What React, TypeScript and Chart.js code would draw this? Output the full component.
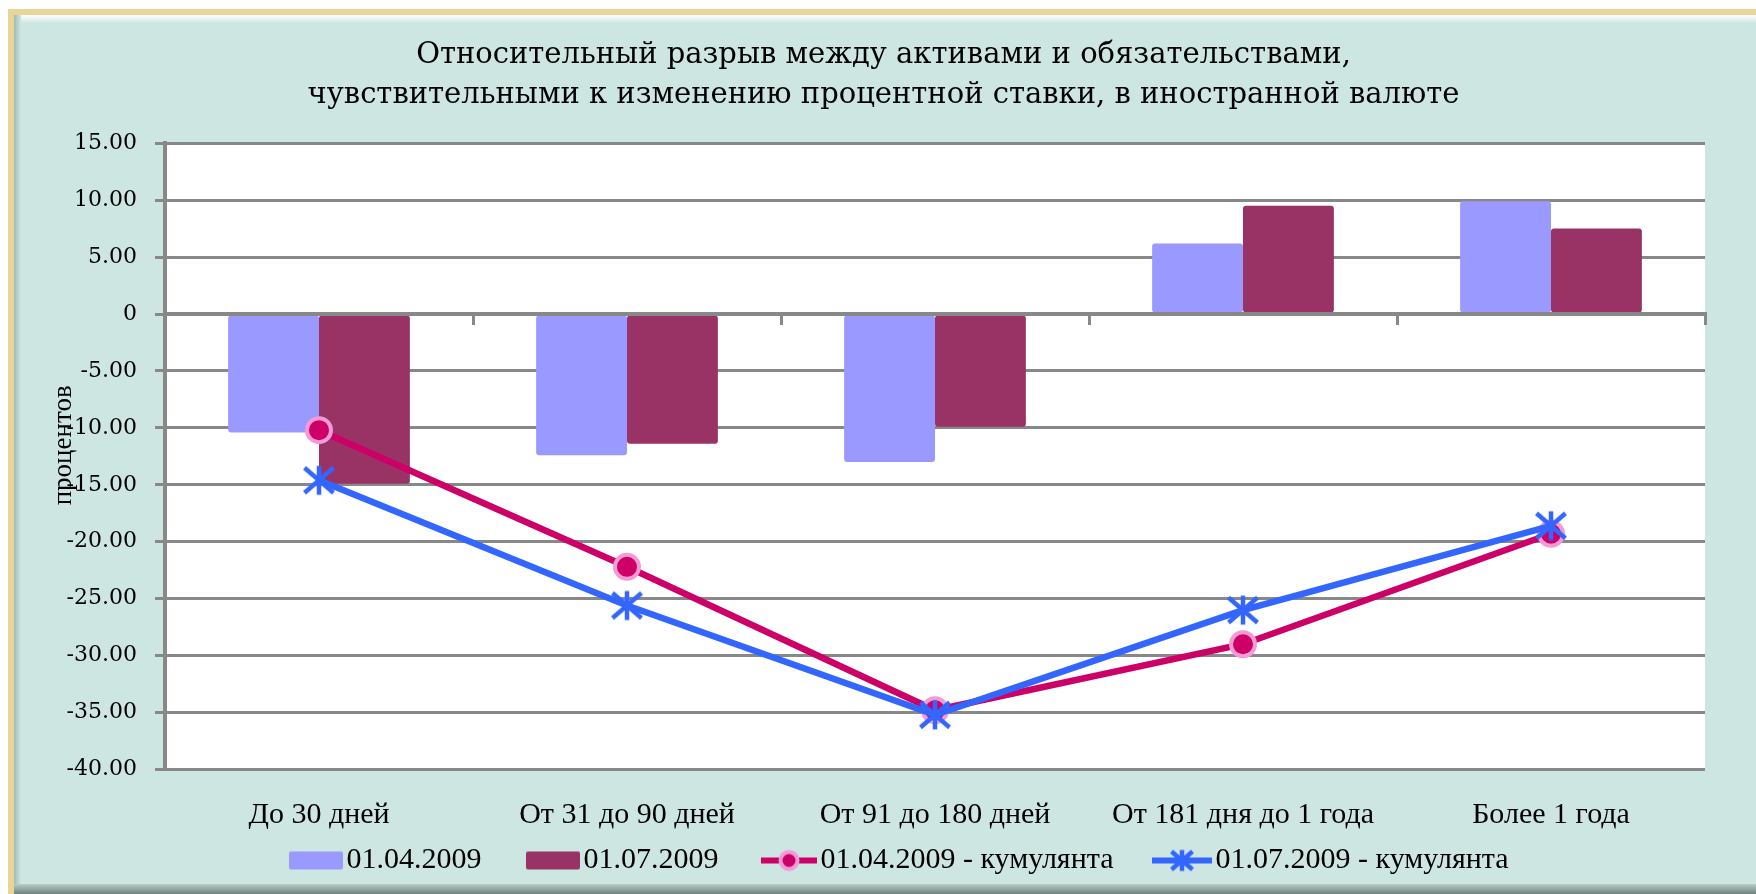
import React, { useEffect, useRef } from 'react';
import { Chart, registerables } from 'chart.js';

Chart.register(...registerables);

// ---- data ----
const categories = ['До 30 дней', 'От 31 до 90 дней', 'От 91 до 180 дней', 'От 181 дня до 1 года', 'Более 1 года'];
const gapApr = [-10.4, -12.4, -13.0, 6.2, 9.9];
const gapJul = [-14.9, -11.4, -9.9, 9.5, 7.5];
const cumApr = [-10.2, -22.2, -34.8, -29.0, -19.3];
const cumJul = [-14.6, -25.6, -35.2, -26.0, -18.6];
const seriesNames = ['01.04.2009', '01.07.2009', '01.04.2009 - кумулянта', '01.07.2009 - кумулянта'];
const titleLines = [
  'Относительный разрыв между активами и обязательствами,',
  'чувствительными к изменению процентной ставки, в иностранной валюте',
];
const yAxisTitle = 'процентов';
const yMin = -40;
const yMax = 15;
const yStep = 5;

// ---- styles ----
const PURPLE = '#9999FF';
const MAROON = '#993366';
const PINK_LINE = '#CC0066';
const PINK_BORDER = '#F49AD6';
const BLUE = '#3366FF';
const GRID = '#888888';

const LEGEND_PW = 73; // pointStyleWidth
const LEGEND_IW = 100; // legend image width
const LEGEND_IH = 28;
const LEGEND_VIS_RIGHT = 98; // right edge of visible glyph inside the legend image

function makeCanvas(w: number, h: number, draw: (ctx: CanvasRenderingContext2D) => void) {
  const c = document.createElement('canvas');
  c.width = w;
  c.height = h;
  const ctx = c.getContext('2d') as CanvasRenderingContext2D;
  draw(ctx);
  return c;
}

function drawStar(ctx: CanvasRenderingContext2D, cx: number, cy: number, r: number, lw: number) {
  ctx.strokeStyle = BLUE;
  ctx.lineWidth = lw;
  ctx.lineCap = 'butt';
  ctx.beginPath();
  ctx.moveTo(cx, cy - r);
  ctx.lineTo(cx, cy + r);
  ctx.moveTo(cx - r, cy - r * 0.86);
  ctx.lineTo(cx + r, cy + r * 0.86);
  ctx.moveTo(cx + r, cy - r * 0.86);
  ctx.lineTo(cx - r, cy + r * 0.86);
  ctx.stroke();
}

function roundRect(ctx: CanvasRenderingContext2D, x: number, y: number, w: number, h: number, r: number) {
  ctx.beginPath();
  ctx.moveTo(x + r, y);
  ctx.lineTo(x + w - r, y);
  ctx.quadraticCurveTo(x + w, y, x + w, y + r);
  ctx.lineTo(x + w, y + h - r);
  ctx.quadraticCurveTo(x + w, y + h, x + w - r, y + h);
  ctx.lineTo(x + r, y + h);
  ctx.quadraticCurveTo(x, y + h, x, y + h - r);
  ctx.lineTo(x, y + r);
  ctx.quadraticCurveTo(x, y, x + r, y);
  ctx.closePath();
}

export default function App() {
  const ref = useRef<HTMLCanvasElement | null>(null);

  useEffect(() => {
    const canvas = ref.current;
    if (!canvas) return;

    const starPoint = makeCanvas(34, 34, (ctx) => drawStar(ctx, 17, 17, 14.5, 4.5));

    const cy = LEGEND_IH / 2;
    const legendBar = (color: string) =>
      makeCanvas(LEGEND_IW, LEGEND_IH, (ctx) => {
        ctx.fillStyle = color;
        roundRect(ctx, LEGEND_VIS_RIGHT - 54, cy - 9, 54, 18, 2);
        ctx.fill();
      });
    const legendPink = makeCanvas(LEGEND_IW, LEGEND_IH, (ctx) => {
      const l = LEGEND_VIS_RIGHT - 56;
      ctx.strokeStyle = PINK_LINE;
      ctx.lineWidth = 6;
      ctx.beginPath();
      ctx.moveTo(l, cy);
      ctx.lineTo(LEGEND_VIS_RIGHT, cy);
      ctx.stroke();
      ctx.beginPath();
      ctx.arc(l + 28, cy, 8.5, 0, Math.PI * 2);
      ctx.fillStyle = PINK_LINE;
      ctx.fill();
      ctx.lineWidth = 4;
      ctx.strokeStyle = PINK_BORDER;
      ctx.stroke();
    });
    const legendBlue = makeCanvas(LEGEND_IW, LEGEND_IH, (ctx) => {
      const l = LEGEND_VIS_RIGHT - 60;
      ctx.strokeStyle = BLUE;
      ctx.lineWidth = 6;
      ctx.beginPath();
      ctx.moveTo(l, cy);
      ctx.lineTo(LEGEND_VIS_RIGHT, cy);
      ctx.stroke();
      drawStar(ctx, l + 30, cy, 10.5, 4.5);
    });
    const legendImages = [legendBar(PURPLE), legendBar(MAROON), legendPink, legendBlue];

    const plotBg = {
      id: 'plotBg',
      beforeDraw(chart: any) {
        const { ctx, chartArea } = chart;
        ctx.save();
        ctx.fillStyle = '#FFFFFF';
        ctx.fillRect(chartArea.left, chartArea.top, chartArea.right - chartArea.left, chartArea.bottom - chartArea.top);
        ctx.restore();
      },
    };

    const yTitle = {
      id: 'yTitle',
      afterDraw(chart: any) {
        const { ctx, chartArea } = chart;
        ctx.save();
        ctx.translate(chartArea.left - 101, (chartArea.top + chartArea.bottom) / 2 - 11);
        ctx.rotate(-Math.PI / 2);
        ctx.font = '27px "Liberation Serif"';
        ctx.fillStyle = '#000';
        ctx.textAlign = 'center';
        ctx.textBaseline = 'middle';
        ctx.fillText(yAxisTitle, 0, 0);
        ctx.restore();
      },
    };

    const chart = new Chart(canvas, {
      type: 'bar',
      data: {
        labels: categories,
        datasets: [
          {
            type: 'line',
            label: seriesNames[3],
            data: cumJul,
            borderColor: BLUE,
            borderWidth: 6.5,
            tension: 0,
            pointStyle: starPoint as any,
            pointRadius: 15,
            order: 1,
          } as any,
          {
            type: 'line',
            label: seriesNames[2],
            data: cumApr,
            borderColor: PINK_LINE,
            borderWidth: 6.5,
            tension: 0,
            pointStyle: 'circle',
            pointRadius: 12,
            pointBorderWidth: 4,
            pointBackgroundColor: PINK_LINE,
            pointBorderColor: PINK_BORDER,
            order: 2,
          } as any,
          {
            type: 'bar',
            label: seriesNames[0],
            data: gapApr,
            backgroundColor: PURPLE,
            borderRadius: 3,
            borderSkipped: false,
            categoryPercentage: 0.59,
            barPercentage: 1,
            order: 3,
          } as any,
          {
            type: 'bar',
            label: seriesNames[1],
            data: gapJul,
            backgroundColor: MAROON,
            borderRadius: 3,
            borderSkipped: false,
            categoryPercentage: 0.59,
            barPercentage: 1,
            order: 4,
          } as any,
        ],
      },
      options: {
        animation: false,
        responsive: false,
        devicePixelRatio: 1,
        layout: { padding: { left: 62, right: 51, top: 10, bottom: 8.5 } },
        plugins: {
          tooltip: { enabled: false },
          title: {
            display: true,
            text: titleLines,
            color: '#000',
            font: { family: '"DejaVu Serif"', size: 29, weight: 'normal', lineHeight: 1.4 },
            padding: { top: 25, bottom: 27 },
          },
          legend: {
            display: true,
            position: 'bottom',
            labels: {
              usePointStyle: true,
              pointStyleWidth: LEGEND_PW,
              boxHeight: 26,
              padding: 14,
              color: '#000',
              font: { family: '"Liberation Serif"', size: 30 },
              generateLabels: () =>
                seriesNames.map((name, i) => ({
                  text: name,
                  pointStyle: legendImages[i] as any,
                  fillStyle: 'transparent',
                  strokeStyle: 'transparent',
                  lineWidth: 0,
                  hidden: false,
                  datasetIndex: [2, 3, 1, 0][i],
                  fontColor: '#000',
                })),
            },
          },
        },
        scales: {
          x: {
            type: 'category',
            position: 'bottom',
            offset: true,
            grid: { display: false },
            border: { display: false },
            ticks: {
              color: '#000',
              padding: 20,
              maxRotation: 0,
              autoSkip: false,
              font: { family: '"Liberation Serif"', size: 30 },
            },
            afterFit: (scale: any) => {
              scale.height = 62;
            },
          },
          x2: {
            type: 'category',
            labels: categories,
            position: { y: 0 },
            offset: true,
            ticks: { display: false },
            grid: {
              offset: true,
              drawOnChartArea: false,
              drawTicks: true,
              tickLength: 9,
              color: GRID,
              lineWidth: 3,
              z: 1,
            },
            border: { display: true, color: GRID, width: 4, z: 1 },
          } as any,
          y: {
            type: 'linear',
            min: yMin,
            max: yMax,
            ticks: {
              stepSize: yStep,
              color: '#000',
              padding: 18,
              font: { family: '"DejaVu Serif"', size: 22 },
              callback: (v: any) => (Number(v) === 0 ? '0' : Number(v).toFixed(2)),
            },
            grid: { color: GRID, lineWidth: 3, drawTicks: true, tickLength: 10 },
            border: { display: true, color: GRID, width: 4 },
            afterFit: (scale: any) => {
              scale.width = 103;
            },
          },
        },
      },
      plugins: [plotBg, yTitle],
    });

    return () => chart.destroy();
  }, []);

  return (
    <div style={{ position: 'absolute', left: 0, top: 0, width: 1756, height: 894, overflow: 'hidden', background: '#FFFFFF' }}>
      <div style={{ position: 'absolute', left: 8, top: 9, width: 1800, height: 950, background: '#E9D696' }} />
      <div style={{ position: 'absolute', left: 14, top: 15, right: 0, bottom: 0, background: '#CEE6E2' }} />
      <div style={{ position: 'absolute', left: 14, top: 15, right: 0, height: 8, background: 'linear-gradient(#FFFFFF, #CEE6E2)' }} />
      <div style={{ position: 'absolute', left: 14, top: 15, width: 7, bottom: 0, background: 'linear-gradient(to right, #A3B9B5, #CEE6E2)' }} />
      <div style={{ position: 'absolute', left: 14, top: 884, right: 0, height: 10, background: 'linear-gradient(#B9CDC9, #6F807D)' }} />
      <canvas ref={ref} width={1756} height={894} style={{ position: 'absolute', left: 0, top: 0, width: 1756, height: 894 }} />
    </div>
  );
}
